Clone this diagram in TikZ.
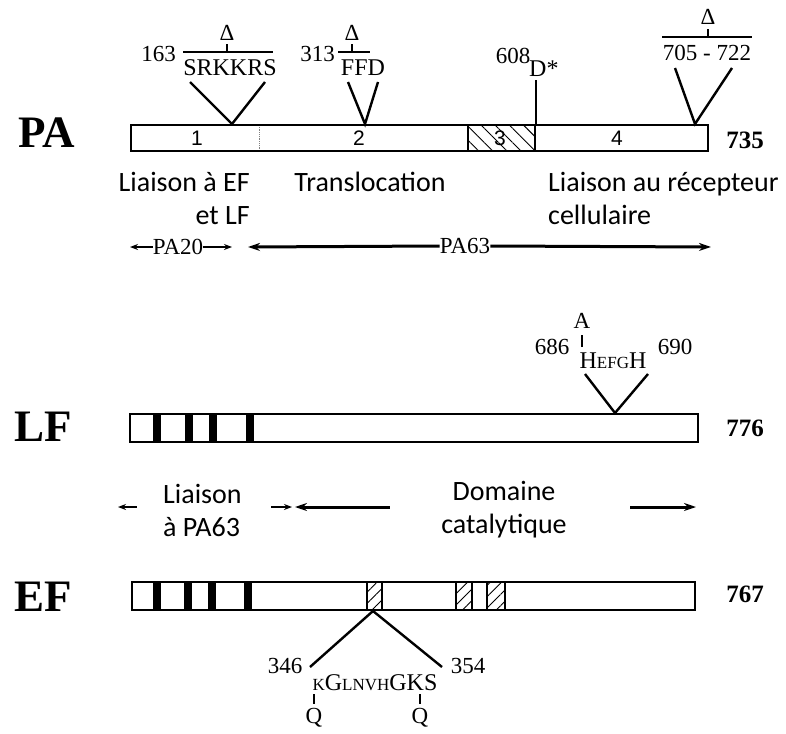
\documentclass[tikz,border=0pt]{standalone}
\usepackage{fontspec}
\setmainfont{Liberation Serif}
\newfontfamily\calibrifont{Carlito}
\newfontfamily\arialfont{Liberation Sans}
\usetikzlibrary{arrows.meta,patterns.meta}
\newcommand{\smc}[1]{{\fontsize{17}{20}\selectfont #1}}
\begin{document}
\begin{tikzpicture}[x=1pt,y=-1pt,
  bar/.style={draw, line width=1.3pt, fill=white, inner sep=0pt, outer sep=0pt, anchor=north west},
  big/.style={font=\fontsize{45}{50}\selectfont\bfseries, inner sep=0pt},
  lbl/.style={font=\fontsize{28}{33}\selectfont\calibrifont, inner sep=0pt},
  seq/.style={font=\fontsize{24}{26}\selectfont, inner sep=0pt},
  num/.style={font=\fontsize{23}{26}\selectfont, inner sep=0pt},
  endnum/.style={font=\fontsize{25}{28}\selectfont\bfseries, inner sep=0pt},
  dom/.style={font=\fontsize{21}{24}\selectfont\arialfont, inner sep=0pt},
  vcon/.style={line width=2.4pt},
  tick/.style={line width=1.4pt},
  obar/.style={line width=2pt},
  blk/.style={fill=black},
  hatch/.style 2 args={pattern={Lines[angle=#1,distance=#2,line width=0.9pt]}},
  rngl/.style={line width=3pt, {Stealth[length=12pt,width=8pt]}-},
  rngr/.style={line width=3pt, -{Stealth[length=12pt,width=8pt]}},
  srngl/.style={line width=1.8pt, {Stealth[length=8pt,width=6pt]}-},
  srngr/.style={line width=1.8pt, -{Stealth[length=8pt,width=6pt]}}
]
\useasboundingbox (0,0) rectangle (786,733);

% ---------------- PA ----------------
\node[big] (paL) at (47,133) {PA};
\node[bar, minimum width=577pt, minimum height=26pt] (pa) at (131,125) {};
\fill[hatch={-45}{10pt}] (468,125) rectangle (535,151);
\draw[line width=1.3pt] (468,125) -- (468,151) (535,125) -- (535,151);
\draw[line width=0.8pt, densely dotted, gray] (259,125) -- (259,151);
\draw[line width=1.3pt] (131,125) rectangle (708,151);
\node[dom] (d1) at (197,138) {1};
\node[dom] (d2) at (359,138) {2};
\node[dom] (d3) at (500,138) {3};
\node[dom] (d4) at (617,138) {4};
\node[endnum] (pa735) at (745,140) {735};

% SRKKRS deletion
\coordinate (a1) at (232,124);
\coordinate (a1l) at (190,82);
\coordinate (a1r) at (265,82);
\draw[vcon] (a1l) -- (a1) -- (a1r);
\node[seq] (srk) at (230,68) {SRKKRS};
\node[num, anchor=east] (n163) at (176,54) {163};
\coordinate (o1l) at (183,52); \coordinate (o1r) at (273,52);
\draw[obar] (o1l) -- (o1r);
\coordinate (t1) at (227,52); \coordinate (t1u) at (227,44);
\draw[tick] (t1) -- (t1u);
\node[num] (del1) at (227,33) {Δ};

% FFD deletion
\coordinate (a2) at (365,124);
\coordinate (a2l) at (348,82);
\coordinate (a2r) at (378,82);
\draw[vcon] (a2l) -- (a2) -- (a2r);
\node[seq] (ffd) at (363,68) {FFD};
\node[num, anchor=east] (n313) at (335,54) {313};
\coordinate (o2l) at (338,52); \coordinate (o2r) at (370,52);
\draw[obar] (o2l) -- (o2r);
\coordinate (t2) at (352,52); \coordinate (t2u) at (352,44);
\draw[tick] (t2) -- (t2u);
\node[num] (del2) at (352,33) {Δ};

% D* 608
\coordinate (a3) at (536,124);
\coordinate (a3u) at (536,80);
\draw[line width=1.6pt] (a3) -- (a3u);
\node[seq, anchor=west] (dstar) at (529,69) {D*};
\node[num] (n608) at (513,56) {608};

% 705-722 deletion
\coordinate (a4) at (695,124);
\coordinate (a4l) at (675,68);
\coordinate (a4r) at (732,68);
\draw[vcon] (a4l) -- (a4) -- (a4r);
\node[num] (n705) at (707,53) {705 - 722};
\coordinate (o4l) at (662,37); \coordinate (o4r) at (752,37);
\draw[obar] (o4l) -- (o4r);
\coordinate (t4) at (708,37); \coordinate (t4u) at (708,29);
\draw[tick] (t4) -- (t4u);
\node[num] (del4) at (708,17) {Δ};

% PA labels
\node[lbl, align=right, anchor=east] (lef) at (250,198) {Liaison à EF\\et LF};
\node[lbl] (trans) at (370,182) {Translocation};
\node[lbl, align=left, anchor=west] (lrec) at (548,198) {Liaison au récepteur\\cellulaire};

% PA20 / PA63
\node[num] (pa20) at (178,247) {PA20};
\coordinate (p20l) at (130,247); \coordinate (p20r) at (232,247);
\draw[srngl] (p20l) -- (pa20.west);
\draw[srngr] (pa20.east) -- (p20r);
\node[num] (pa63) at (465,246) {PA63};
\coordinate (p63l) at (248,247); \coordinate (p63r) at (711,247);
\draw[rngl] (p63l) -- (pa63.west);
\draw[rngr] (pa63.east) -- (p63r);

% ---------------- LF ----------------
\node[big] (lfL) at (43,427) {LF};
\node[bar, minimum width=568pt, minimum height=28pt] (lf) at (130,414) {};
\foreach \x in {157,189,213,250}{
  \fill[blk] (\x-4,414) rectangle (\x+4,442);
}
\draw[line width=1.3pt] (130,414) rectangle (698,442);
\node[endnum] (lf776) at (745,428) {776};

\coordinate (a5) at (615,413);
\coordinate (a5l) at (585,374);
\coordinate (a5r) at (648,374);
\draw[vcon] (a5l) -- (a5) -- (a5r);
\node[seq] (hefgh) at (613,361) {H\smc{EFG}H};
\node[num] (n686) at (552,347) {686};
\node[num] (n690) at (675,347) {690};
\coordinate (t5) at (582,347); \coordinate (t5u) at (582,335);
\draw[tick] (t5) -- (t5u);
\node[num] (ala) at (582,321) {A};

% middle labels and ranges
\node[lbl, align=left, anchor=west] (lpa63) at (163,510) {Liaison\\à PA63};
\coordinate (r1l) at (118,507); \coordinate (r1la) at (137,507);
\coordinate (r1ra) at (271,507); \coordinate (r1r) at (292,507);
\draw[srngl] (r1l) -- (r1la);
\draw[srngr] (r1ra) -- (r1r);
\node[lbl, align=center] (dcat) at (504,510) {Domaine\\catalytique};
\coordinate (r2l) at (295,507); \coordinate (r2la) at (390,507);
\coordinate (r2ra) at (630,507); \coordinate (r2r) at (696,507);
\draw[rngl] (r2l) -- (r2la);
\draw[rngr] (r2ra) -- (r2r);

% ---------------- EF ----------------
\node[big] (efL) at (43,597) {EF};
\node[bar, minimum width=563pt, minimum height=28pt] (ef) at (132,582) {};
\foreach \x in {157,188,212,248}{
  \fill[blk] (\x-4,582) rectangle (\x+4,610);
}
\foreach \a/\b in {367/382,456/472,487/505}{
  \fill[hatch={45}{8pt}] (\a,582) rectangle (\b,610);
  \draw[line width=1.1pt] (\a,582) rectangle (\b,610);
}
\draw[line width=1.3pt] (132,582) rectangle (695,610);
\node[endnum] (ef767) at (745,594) {767};

\coordinate (a6) at (373,611);
\coordinate (a6l) at (310,667);
\coordinate (a6r) at (442,667);
\draw[vcon] (a6l) -- (a6) -- (a6r);
\node[seq] (kgl) at (375,683) {\smc{K}G\smc{LNVH}GKS};
\node[num] (n346) at (285,666) {346};
\node[num] (n354) at (468,666) {354};
\coordinate (t6a) at (314,694); \coordinate (t6ad) at (314,704);
\coordinate (t6b) at (420,694); \coordinate (t6bd) at (420,704);
\draw[tick] (t6a) -- (t6ad);
\draw[tick] (t6b) -- (t6bd);
\node[num] (q1) at (314,718) {Q};
\node[num] (q2) at (420,718) {Q};
\end{tikzpicture}
\end{document}
